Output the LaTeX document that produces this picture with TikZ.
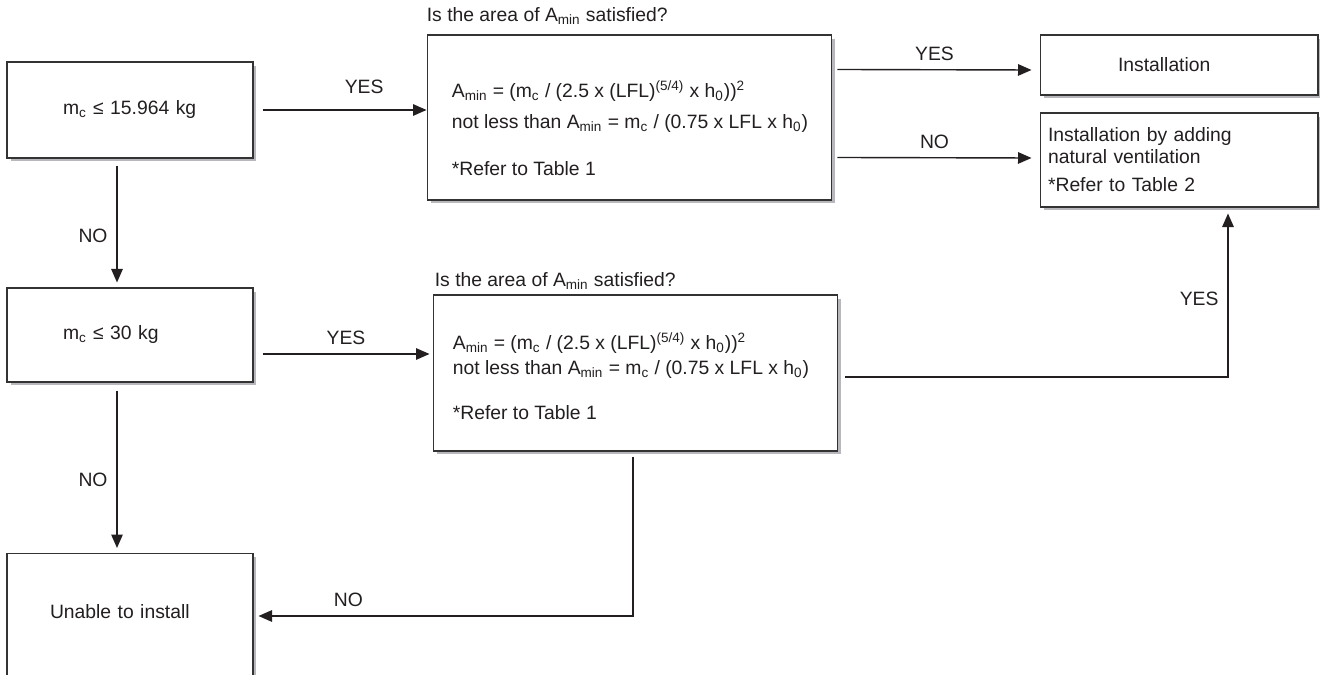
\documentclass[tikz,border=0pt]{standalone}
\usepackage{fontspec}
\setmainfont{Liberation Sans}
\usetikzlibrary{arrows.meta, positioning, shadows, calc}
\definecolor{edgegray}{HTML}{333333}
\definecolor{shadegray}{HTML}{B8B8BC}
\definecolor{inkgray}{HTML}{231F20}
\newcommand{\lo}[1]{\textsubscript{#1}}
\newcommand{\hi}[1]{\textsuperscript{#1}}

\begin{document}
\begin{tikzpicture}[
    x=0.02cm, y=-0.02cm,
    font=\fontsize{11}{12.5}\selectfont, text=inkgray,
    box/.style={rectangle, draw=edgegray, line width=0.6pt, fill=white, inner ysep=0pt, align=left,
        drop shadow={shadow xshift=0.07cm, shadow yshift=-0.07cm, fill=shadegray, opacity=1}},
    txt/.style={inner sep=0pt, align=left, anchor=north west},
    arrow/.style={-{Triangle[length=0.27cm, width=0.23cm]}, line width=0.8pt, draw=inkgray},
    lbl/.style={inner sep=0pt}
  ]
  \useasboundingbox (0,0) rectangle (1320,675);
  \clip (0,0) rectangle (1320,675);

  % left column: charge limits
  \node[box, minimum width=4.92cm, minimum height=1.92cm, inner xsep=1.12cm, text width=2.68cm] (mc1) at (130,110) {\mbox{m\lo{c} ≤ 15.964 kg}};
  \node[box, minimum width=4.92cm, minimum height=1.88cm, inner xsep=1.12cm, text width=2.68cm] (mc2) at (130,335) {\mbox{m\lo{c} ≤ 30 kg}};
  \node[box, anchor=north, minimum width=4.92cm, inner xsep=0.86cm, text width=3.2cm, text height=1.3cm, text depth=2.1cm] (nogo) at (130,553) {Unable to install};

  % area checks
  \node[box, minimum width=8.1cm, minimum height=3.3cm] (chk1) at (629.5,117.5) {};
  \node[anchor=base west, inner sep=0pt] (q1) at ($(chk1.north west)+(0,-13)$) {Is the area of A\lo{min} satisfied?};
  \node[txt] (f1) at ($(chk1.north west)+(25,46)$) {A\lo{min} = (m\lo{c} / (2.5 x (LFL)\hi{(5/4)} x h\lo{0}))\hi{2}\\[5.1pt]
    not less than A\lo{min} = m\lo{c} / (0.75 x LFL x h\lo{0})\\[14.1pt]
    *Refer to Table 1};

  \node[box, minimum width=8.1cm, minimum height=3.12cm] (chk2) at (635.5,373) {};
  \node[anchor=base west, inner sep=0pt] (q2) at ($(chk2.north west)+(2,-8)$) {Is the area of A\lo{min} satisfied?};
  \node[txt] (f2) at ($(chk2.north west)+(20,38)$) {A\lo{min} = (m\lo{c} / (2.5 x (LFL)\hi{(5/4)} x h\lo{0}))\hi{2}\\[1.6pt]
    not less than A\lo{min} = m\lo{c} / (0.75 x LFL x h\lo{0})\\[13pt]
    *Refer to Table 1};

  % results
  \node[box, minimum width=5.56cm, minimum height=1.2cm, inner xsep=1.56cm, text width=2.44cm] (install) at (1179,65) {Installation};
  \node[box, minimum width=5.56cm, minimum height=1.88cm, inner xsep=0.16cm, text width=5.24cm] (vent) at (1179,160) {Installation by adding\\natural ventilation\\[3.4pt]*Refer to Table 2};

  % connectors
  \draw[arrow] ($(mc1.east)+(9,0)$) -- (chk1.west |- mc1.east) node[lbl, pos=0.62, above=9pt] {YES};
  \draw[arrow] ($(chk1.north east)+(5,35)$) -- ($(install.west)+(-8,5)$) node[lbl, midway, above=5pt] {YES};
  \draw[arrow] ($(chk1.north east)+(5,123)$) -- ($(vent.west)+(-8,-2)$) node[lbl, midway, above=5pt] {NO};
  \draw[arrow] ($(mc1.south)+(-13,7)$) -- ($(mc2.north)+(-13,-5)$) node[lbl, pos=0.6, left=5pt] {NO};
  \draw[arrow] ($(mc2.east)+(9,19)$) -- ($(chk2.west)+(-3,-19)$) node[lbl, midway, above=5pt] {YES};
  \draw[arrow] ($(mc2.south)+(-13,8)$) -- ($(nogo.north)+(-13,-5)$) node[lbl, pos=0.57, left=5pt] {NO};
  \draw[arrow] ($(chk2.south)+(-2.5,5)$) |- ($(nogo.north east)+(5,63)$) node[lbl, pos=0.88, above=5pt] {NO};
  \draw[arrow] ($(chk2.east)+(7,4)$) -| ($(vent.south)+(49,6)$) node[lbl, pos=0.74, left=5pt] {YES};
\end{tikzpicture}
\end{document}
